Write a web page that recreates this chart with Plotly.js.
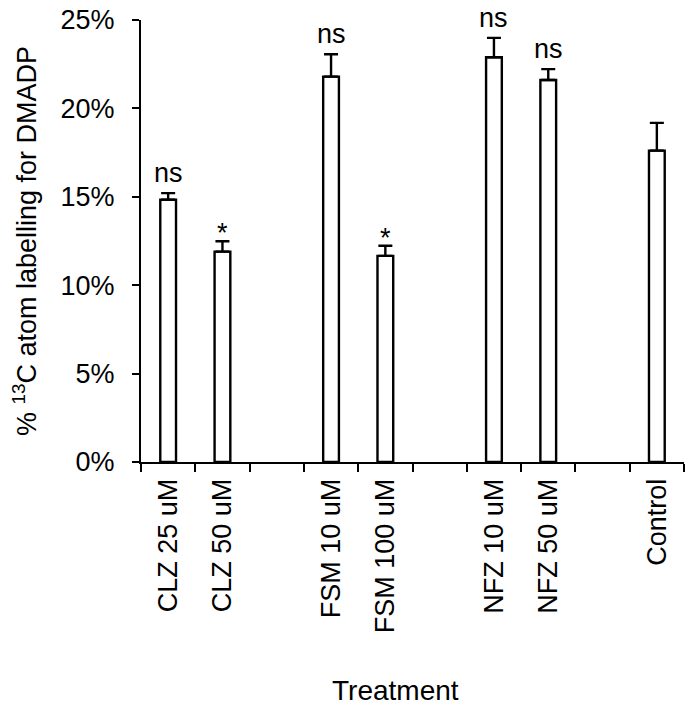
<!DOCTYPE html>
<html>
<head>
<meta charset="utf-8">
<script src="https://cdn.plot.ly/plotly-3.0.1.min.js"></script>
<style>html,body{margin:0;padding:0;background:#fff;}#chart{width:685px;height:710px;}</style>
</head>
<body>
<div id="chart"></div>
<script>
// Categories (blank entries are empty gap slots on the axis)
var categories = ["CLZ 25 uM", "CLZ 50 uM", " ", "FSM 10 uM", "FSM 100 uM", "  ", "NFZ 10 uM", "NFZ 50 uM", "   ", "Control"];
// % 13C atom labelling for DMADP
var values = [14.83, 11.9, null, 21.8, 11.66, null, 22.89, 21.61, null, 17.61];
// upper error (standard error)
var errors = [0.38, 0.59, null, 1.26, 0.57, null, 1.1, 0.61, null, 1.57];
// significance labels
var sigLabels = ["ns", "*", "", "ns", "*", "", "ns", "ns", "", ""];
var yTickVals = [0, 5, 10, 15, 20, 25];
var xTitle = "Treatment";
var yTitle = "% <sup>13</sup>C atom labelling for DMADP";

var FONT = "Liberation Sans, Arial, sans-serif";
var FS = 27;

var trace = {
  type: "bar",
  x: categories,
  y: values,
  width: 0.29,
  marker: {color: "#ffffff", line: {color: "#000000", width: 2.4}},
  error_y: {
    type: "data",
    symmetric: false,
    array: errors,
    arrayminus: errors.map(function(){ return 0; }),
    color: "#000000",
    thickness: 2.4,
    width: 7
  },
  hoverinfo: "none",
  showlegend: false
};

var annotations = [];
for (var i = 0; i < categories.length; i++) {
  if (!sigLabels[i]) continue;
  annotations.push({
    x: categories[i],
    y: values[i] + errors[i],
    xref: "x", yref: "y",
    text: sigLabels[i],
    showarrow: false,
    yanchor: "bottom",
    yshift: sigLabels[i] === "*" ? -9 : 3,
    font: {family: FONT, size: FS, color: "#000"}
  });
}
// x-axis title, placed as in the reference (slightly left of centre)
annotations.push({
  xref: "paper", yref: "paper",
  x: 0.468, y: -0.518,
  xanchor: "center", yanchor: "middle",
  text: xTitle,
  showarrow: false,
  font: {family: FONT, size: 28, color: "#000"}
});

var layout = {
  width: 685,
  height: 710,
  margin: {l: 141, r: 1, t: 20, b: 248, pad: 0},
  paper_bgcolor: "#ffffff",
  plot_bgcolor: "#ffffff",
  font: {family: FONT, size: FS, color: "#000"},
  bargap: 0,
  xaxis: {
    type: "category",
    categoryorder: "array",
    categoryarray: categories,
    range: [-0.5, 9.5],
    tickson: "boundaries",
    ticks: "outside",
    ticklen: 8,
    tickwidth: 2,
    tickcolor: "#000",
    tickangle: -90,
    showline: true,
    linecolor: "#000",
    linewidth: 2,
    showgrid: false,
    zeroline: false,
    ticklabelstandoff: 4,
    tickfont: {family: FONT, size: FS, color: "#000"}
  },
  yaxis: {
    range: [0, 25],
    tickvals: yTickVals,
    ticktext: yTickVals.map(function(v){ return v + "%"; }),
    ticks: "outside",
    ticklen: 7,
    tickwidth: 2,
    tickcolor: "#000",
    showline: true,
    linecolor: "#000",
    linewidth: 2,
    showgrid: false,
    zeroline: false,
    ticklabelstandoff: 12,
    tickfont: {family: FONT, size: FS, color: "#000"},
    title: {text: yTitle, font: {family: FONT, size: FS, color: "#000"}, standoff: 16}
  },
  annotations: annotations
};

Plotly.newPlot("chart", [trace], layout, {staticPlot: true, displayModeBar: false});
</script>
</body>
</html>
